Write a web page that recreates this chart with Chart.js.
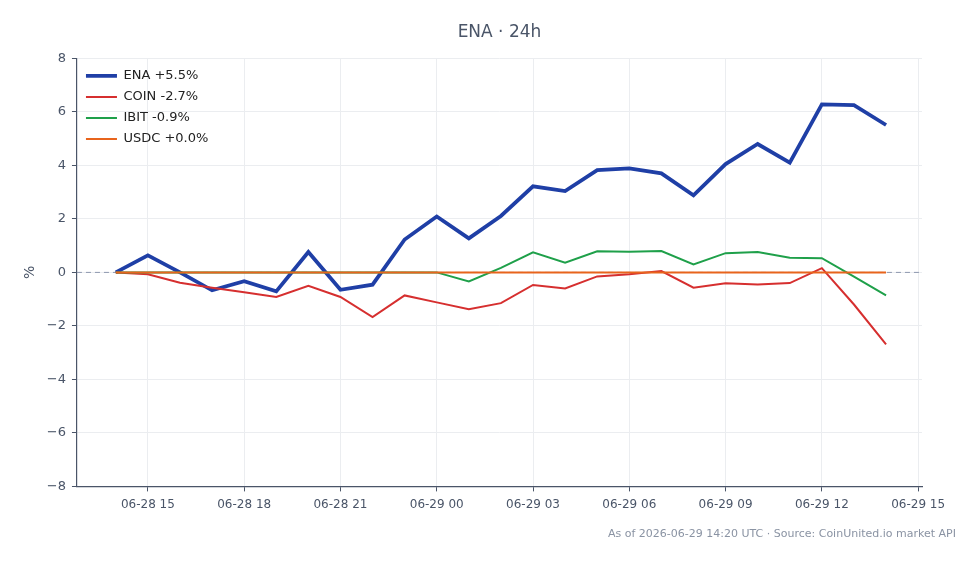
<!DOCTYPE html>
<html>
<head>
<meta charset="utf-8">
<script src="https://cdn.jsdelivr.net/npm/chart.js@4"></script>
<style>
  html, body { margin: 0; padding: 0; background: #ffffff; }
  #wrap { width: 980px; height: 564px; }
</style>
</head>
<body>
<div id="wrap"><canvas id="chart" width="980" height="564"></canvas></div>
<script>
// hours since 06-28 00:00 UTC
const hours = [14, 15, 16, 17, 18, 19, 20, 21, 22, 23, 24, 25, 26, 27, 28, 29, 30, 31, 32, 33, 34, 35, 36, 37, 38];

const seriesNames = ['ENA +5.5%', 'COIN -2.7%', 'IBIT -0.9%', 'USDC +0.0%'];
const ena  = [0, 0.64, 0.0, -0.67, -0.33, -0.71, 0.76, -0.65, -0.46, 1.23, 2.09, 1.27, 2.11, 3.22, 3.04, 3.82, 3.89, 3.70, 2.88, 4.05, 4.80, 4.10, 6.28, 6.25, 5.51];
const coin = [0, -0.07, -0.39, -0.57, -0.74, -0.92, -0.50, -0.92, -1.67, -0.86, -1.12, -1.38, -1.15, -0.47, -0.60, -0.15, -0.07, 0.05, -0.57, -0.41, -0.45, -0.40, 0.16, -1.20, -2.69];
const ibit = [0, 0, 0, 0, 0, 0, 0, 0, 0, 0, 0, -0.34, 0.17, 0.75, 0.36, 0.79, 0.77, 0.80, 0.30, 0.72, 0.76, 0.55, 0.53, -0.16, -0.86];
const usdc = [0, 0, 0, 0, 0, 0, 0, 0, 0, 0, 0, 0, 0, 0, 0, 0, 0, 0, 0, 0, 0, 0, 0, 0, 0];

const tickHours = [15, 18, 21, 24, 27, 30, 33, 36, 39];
const tickLabels = ['06-28 15', '06-28 18', '06-28 21', '06-29 00', '06-29 03', '06-29 06', '06-29 09', '06-29 12', '06-29 15'];

const colors = ['#1f3fa6', '#d62f2f', '#1fa04a', '#e8641c'];
const widths = [3.8, 2, 2, 2];

const FONT = "'DejaVu Sans', sans-serif";
const AXIS = '#4a5568';

function points(values) {
    return values.map((v, i) => ({ x: hours[i], y: v }));
}

// dashed reference line at 0%, and legend moved inside the plot's top-left corner
const extras = {
    id: 'extras',
    afterLayout(chart) {
        const lg = chart.legend;
        const a = chart.chartArea;
        if (!lg) return;
        const h = lg.bottom - lg.top;
        const w = lg.right - lg.left;
        lg.top = a.top + 3;
        lg.bottom = lg.top + h;
        lg.left = a.left + 1;
        lg.right = lg.left + w;
    },
    beforeDatasetsDraw(chart) {
        const ctx = chart.ctx;
        const area = chart.chartArea;
        const y = chart.scales.y.getPixelForValue(0);
        ctx.save();
        ctx.strokeStyle = '#8d98ae';
        ctx.lineWidth = 1;
        ctx.setLineDash([5, 4]);
        ctx.beginPath();
        ctx.moveTo(area.left, y);
        ctx.lineTo(area.right, y);
        ctx.stroke();
        ctx.restore();
    }
};

const allSeries = [ena, coin, ibit, usdc];

new Chart(document.getElementById('chart'), {
    type: 'line',
    data: {
        datasets: allSeries.map((s, i) => ({
            label: seriesNames[i],
            data: points(s),
            borderColor: colors[i],
            backgroundColor: colors[i],
            borderWidth: widths[i],
            pointRadius: 0,
            tension: 0,
            fill: false,
            order: 3 - i   // last series drawn on top
        }))
    },
    options: {
        responsive: false,
        animation: false,
        layout: { padding: { left: 18, right: 24, top: 8, bottom: 10 } },
        plugins: {
            title: {
                display: true,
                fullSize: false,
                text: 'ENA · 24h',
                color: AXIS,
                font: { family: FONT, size: 17, weight: 'normal' },
                padding: { top: 14, bottom: 16 }
            },
            subtitle: {
                display: true,
                position: 'bottom',
                align: 'end',
                text: 'As of 2026-06-29 14:20 UTC · Source: CoinUnited.io market API',
                color: '#8a93a3',
                font: { family: FONT, size: 11 },
                padding: { top: 10, bottom: 13 }
            },
            legend: {
                position: 'chartArea',
                align: 'start',
                labels: {
                    usePointStyle: true,
                    pointStyle: 'line',
                    pointStyleWidth: 31,
                    color: '#222222',
                    font: { family: FONT, size: 13 },
                    padding: 8,
                    sort: (a, b) => a.datasetIndex - b.datasetIndex
                }
            },
            tooltip: { enabled: false }
        },
        scales: {
            x: {
                type: 'linear',
                min: 12.79,
                max: 39.12,
                afterBuildTicks: (axis) => {
                    axis.ticks = tickHours.map(v => ({ value: v }));
                },
                afterFit: (axis) => {
                    axis.paddingRight = 58;
                },
                ticks: {
                    color: AXIS,
                    font: { family: FONT, size: 12 },
                    maxRotation: 0,
                    autoSkip: false,
                    padding: 6,
                    callback: (v, i) => tickLabels[i]
                },
                grid: { color: '#ebedf0', tickColor: AXIS, tickLength: 5 },
                border: { color: AXIS, width: 1.2 }
            },
            y: {
                min: -8,
                max: 8,
                ticks: {
                    stepSize: 2,
                    color: AXIS,
                    font: { family: FONT, size: 13 },
                    padding: 6,
                    callback: (v) => String(v).replace('-', '\u2212')
                },
                grid: { color: '#ebedf0', tickColor: AXIS, tickLength: 5 },
                border: { color: AXIS, width: 1.2 },
                title: {
                    display: true,
                    text: '%',
                    color: AXIS,
                    font: { family: FONT, size: 14 },
                    padding: { top: 4, bottom: 2 }
                }
            }
        }
    },
    plugins: [extras]
});
</script>
</body>
</html>
